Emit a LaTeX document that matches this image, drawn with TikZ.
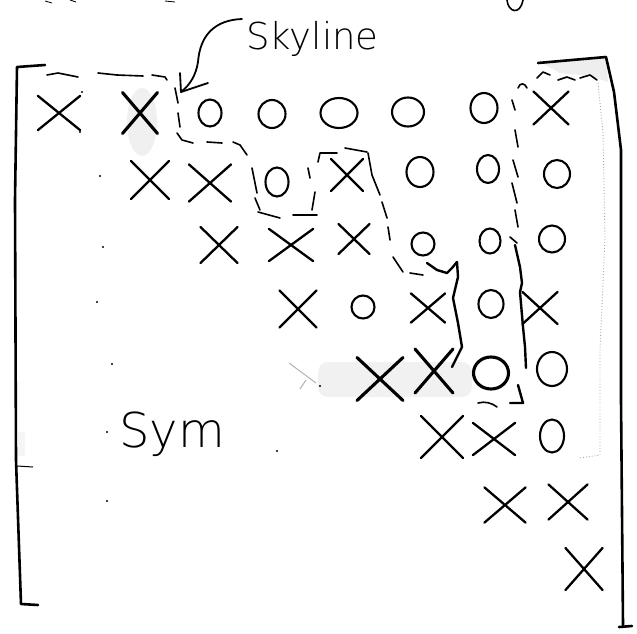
\documentclass[tikz,border=0pt]{standalone}
\usepackage{fontspec}
\newfontfamily\hand{DejaVuSans-ExtraLight.ttf}
\usetikzlibrary{shapes.misc,shapes.geometric}
\begin{document}
\begin{tikzpicture}[x=1pt,y=-1pt,
  xm/.style={draw,cross out,inner sep=0pt,line width=2.3pt,line cap=round},
  om/.style={draw,ellipse,inner sep=0pt,line width=2.1pt},
  heavy/.style={line width=3.1pt},
  sky/.style={line width=1.6pt,line cap=round,line join=round},
  skysolid/.style={line width=2.4pt,line cap=round,line join=round},
  brk/.style={line width=2.6pt,line cap=round,line join=round},
  faint/.style={gray!70,line width=0.9pt,dotted},
  speck/.style={fill=black,draw=none,circle,inner sep=0pt,minimum size=2.4pt},
  handtext/.style={anchor=base west,inner sep=0pt}]
\useasboundingbox (0,0) rectangle (637,634);

% grey pencil shading
\fill[gray!12] (142,122) ellipse (15 and 34);
\fill[gray!11, rounded corners=10pt] (318,362) rectangle (472,397);
\fill[gray!13] (540,62) -- (606,57) -- (608,82) -- (590,76) -- (560,73) -- cycle;
\fill[gray!8] (18,432) rectangle (25,456);

% brackets
\draw[brk] (45,65) -- (17,67) -- (15,200) -- (16,460) -- (21,604) -- (38,605);
\draw[line width=1pt] (17,466) -- (33,467);
\draw[brk] (538,63) -- (606,57) -- (614,92) -- (621,150) -- (621,400) -- (623,625);
\draw[brk] (619,627) -- (632,626);

% label and arrow
\node[handtext,font=\hand\fontsize{37}{40}\selectfont] (lbl) at (246,50) {Skyline};
\coordinate (astart) at (242,19);
\coordinate (tip) at (181,92);
\draw[line width=1.8pt,line cap=round] (astart) .. controls (215,20) and (200,35) .. (198,62) .. controls (196,75) and (190,85) .. (tip);
\draw[line width=1.8pt,line cap=round,line join=round] ([shift={(-1,-19)}]tip) -- (tip) -- ([shift={(27,-9)}]tip);

% fragments at top edge
\draw[line width=1.6pt,line cap=round] (507,0) .. controls (508,12) and (520,16) .. (523,0);
\draw[line width=0.8pt] (45,1) -- (52,3);
\draw[line width=0.8pt] (70,0) -- (76,2);
\draw[line width=0.8pt] (165,1) -- (175,2);

% row 1
\node[xm,minimum width=40pt,minimum height=32pt] (x11) at (59,113) {};
\node[xm,heavy,minimum width=32pt,minimum height=38pt] (x12) at (140,113) {};
\node[om,minimum width=23pt,minimum height=27pt] (o13) at (210,113) {};
\node[om,minimum width=27pt,minimum height=28pt] (o14) at (272,114) {};
\node[om,minimum width=37pt,minimum height=30pt] (o15) at (339,113) {};
\node[om,minimum width=32pt,minimum height=29pt] (o16) at (408,112) {};
\node[om,minimum width=27pt,minimum height=30pt] (o17) at (484,108) {};
\node[xm,minimum width=33pt,minimum height=31pt] (x18) at (551,108) {};
% row 2
\node[xm,minimum width=36pt,minimum height=36pt] (x22) at (150,180) {};
\node[xm,minimum width=40pt,minimum height=35pt] (x23) at (210,183) {};
\node[om,minimum width=23pt,minimum height=29pt] (o24) at (277,182) {};
\node[xm,minimum width=30pt,minimum height=30pt] (x25) at (347,175) {};
\node[om,minimum width=27pt,minimum height=30pt] (o26) at (420,172) {};
\node[om,minimum width=22pt,minimum height=28pt] (o27) at (488,169) {};
\node[om,minimum width=26pt,minimum height=28pt] (o28) at (557,174) {};
% row 3
\node[xm,minimum width=35pt,minimum height=34pt] (x33) at (219,245) {};
\node[xm,minimum width=42pt,minimum height=30pt] (x34) at (291,245) {};
\node[xm,minimum width=29pt,minimum height=28pt] (x35) at (354,239) {};
\node[om,minimum width=23pt,minimum height=23pt] (o36) at (423,244) {};
\node[om,minimum width=21pt,minimum height=25pt] (o37) at (490,241) {};
\node[om,minimum width=26pt,minimum height=27pt] (o38) at (552,239) {};
% row 4
\node[xm,minimum width=35pt,minimum height=35pt] (x44) at (298,309) {};
\node[om,minimum width=23pt,minimum height=23pt] (o45) at (363,307) {};
\node[xm,minimum width=32pt,minimum height=27pt] (x46) at (428,308) {};
\node[om,minimum width=25pt,minimum height=28pt] (o47) at (491,304) {};
\node[xm,minimum width=33pt,minimum height=30pt] (x48) at (540,308) {};
% row 5
\draw[gray!60,line width=1pt] (289,363) -- (316,383);
\draw[gray!60,line width=1pt] (300,389) -- (306,380);
\node[xm,heavy,minimum width=43pt,minimum height=40pt] (x55) at (380,379) {};
\node[xm,heavy,minimum width=35pt,minimum height=41pt] (x56) at (434,371) {};
\node[om,heavy,minimum width=35pt,minimum height=32pt] (o57) at (491,373) {};
\node[om,minimum width=30pt,minimum height=34pt] (o58) at (552,369) {};
% row 6
\node[xm,minimum width=40pt,minimum height=40pt] (x66) at (442,437) {};
\node[xm,minimum width=40pt,minimum height=30pt] (x67) at (494,439) {};
\node[om,minimum width=24pt,minimum height=33pt] (o68) at (552,436) {};
% row 7
\node[xm,minimum width=39pt,minimum height=33pt] (x77) at (505,505) {};
\node[xm,minimum width=37pt,minimum height=33pt] (x78) at (568,502) {};
% row 8
\node[xm,minimum width=35pt,minimum height=40pt] (x88) at (584,569) {};

% Sym
\node[handtext,font=\hand\fontsize{48}{50}\selectfont] (sym) at (119,447) {Sym};

% specks in the lower triangle
\foreach \p in {(82,92),(80,132),(100,176),(103,247),(97,302),(112,364),(107,432),(107,501),(277,451),(320,386)}
  \node[speck] at \p {};

% main skyline (dashed, hand drawn)
\draw[sky] (47,75) -- (58,73) -- (78,77);
\draw[sky] (98,73) -- (117,75) -- (143,76);
\draw[sky] (152,75) -- (165,77) -- (167,80);
\draw[sky] (175,88) -- (178,103);
\draw[sky] (178,113) -- (180,127);
\draw[sky] (177,133) -- (182,140) -- (193,143);
\draw[sky] (207,142) -- (222,143);
\draw[sky] (233,142) -- (240,145) -- (247,155);
\draw[sky] (252,168) -- (257,193);
\draw[sky] (255,198) -- (260,210);
\draw[sky] (258,212) -- (280,218);
\draw[sky] (293,215) -- (317,215);
\draw[sky] (312,210) -- (315,192);
\draw[sky] (308,168) -- (310,178);
\draw[sky] (318,162) -- (320,153) -- (337,153);
\draw[sky] (345,148) -- (367,152);
\draw[sky] (368,153) -- (372,175) -- (380,195);
\draw[sky] (382,202) -- (387,218);
\draw[sky] (388,227) -- (390,240);
\draw[sky] (393,257) -- (403,272);
\draw[sky] (410,273) -- (423,275);
\draw[skysolid] (427,263) -- (437,270) -- (447,273) -- (452,268) -- (457,262)
  -- (458,277) -- (453,298) -- (458,323) -- (462,347) -- (452,367);

% right skyline line
\draw[sky] (518,88) .. controls (520,82) and (525,83) .. (527,88);
\draw[sky] (512,100) -- (515,110);
\draw[sky] (515,130) -- (518,147);
\draw[sky] (513,160) -- (518,177);
\draw[sky] (512,183) -- (517,203);
\draw[sky] (515,210) -- (518,227);
\draw[sky] (510,237) -- (517,243);
\draw[skysolid] (515,245) -- (520,267) -- (522,283) -- (520,292) -- (523,327) -- (525,347) -- (526,368);
\draw[skysolid] (518,385) -- (523,403) -- (510,403);
\draw[sky] (478,403) .. controls (485,401) and (492,403) .. (497,407);

% top of last column
\draw[sky] (537,78) -- (543,72) -- (550,75);
\draw[sky] (558,80) -- (567,77) -- (575,80);
\draw[sky] (580,78) -- (590,75) -- (597,80);
\draw[faint] (598,83) -- (603,133) -- (605,237) -- (600,350) -- (600,455) -- (580,458);
\end{tikzpicture}
\end{document}
